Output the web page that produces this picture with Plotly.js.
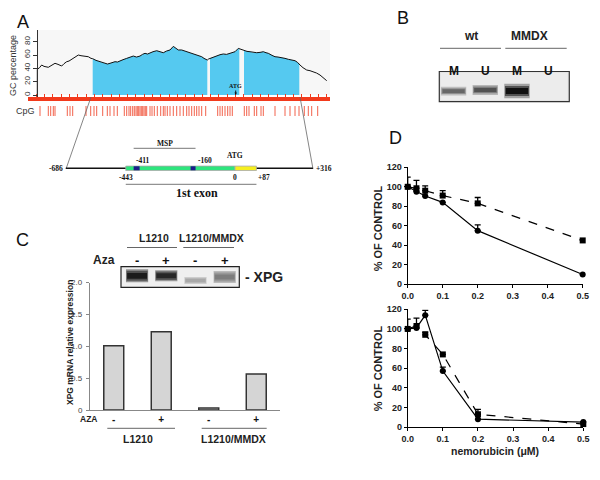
<!DOCTYPE html>
<html><head><meta charset="utf-8">
<script src="https://cdn.plot.ly/plotly-3.0.1.min.js"></script>
<style>html,body{margin:0;padding:0;background:#fff}#chart{width:600px;height:480px}</style>
</head><body><div id="chart"></div>
<script>
// ---------- DATA ----------
// Panel A: GC percentage along the sequence window
const gcPos = [37.3,37.3,39.5,41.7,44,46,48.3,51,55,58,61.7,64,66.7,69,71.7,75,78.3,81,83.3,86,88.3,91,92.7,96,100,102.5,105,107.5,110,112.5,115,117.5,120,123,126.7,130,133.3,136.5,140,142.5,145,147.5,150,153,156.7,160,163.3,166.5,170,173.3,175.5,178.3,181.7,185,188.3,191.5,195,198,201.7,204,206.7,207.3,208.5,210,213,216.7,220,223.3,226.5,230,232.5,235,238.3,239.3,241,243.3,244,247,250,253,256.7,260,263.3,266,268.3,272,275,278,281.7,285,288.3,292,295,297.5,299.3,300,303,306.7,310,313.3,316.5,320,323,326.7];
const gcVal = [0,38.6,41,45,43,42.5,41.6,44,47.6,46,43.5,47,50,51,53.6,56,60,59,58.5,59,57.5,55,54.5,52,50,48.5,47.6,46.5,47.6,48.5,50,49.5,51.5,53,55,56.5,58.5,57,58.5,61,62.6,61.5,63.5,65,66.5,64.5,63.5,66,67.6,73,70,67.6,67.6,66,65,63,61.6,59.5,57.5,55,52.5,52.5,54,55,57,58.5,60.5,61.6,61,62.6,64,65,70,69.5,68.5,66.5,66.5,65.5,65,64,63.5,64,65,63.5,62.6,59.5,57.5,57,56.5,55,53.6,52.5,51.5,49,47,45,41,37.5,36.5,35,33,30,26.5,21.5];
const cpgIslands = [[92.7,207.3],[210,239.3],[244,299.3]];
const cpgSites = [40,48.3,50.7,53.3,55,67.3,70,72.7,86,90.7,94,96.7,102.7,107.3,110,114,117.3,124.3,126.7,129,130.7,132.7,134.3,136,137.3,138.7,140,141.3,142.7,144,145.3,146.7,150,152,154.3,157.3,160.7,163.3,165,167.3,170,173.3,176.7,180,183.3,186.7,189,191.7,194.3,196.7,199,201.7,205.7,217.7,220,222.3,225,227.7,230,232.3,244.3,246.7,249,254.3,256.7,261,263.3,275,285,290,295,299,304.3,308.3,311.7,317.7];
const atgWindowPos = 235.7;
const gcTicks = [0,20,40,60,80];

// Gene diagram (bp relative to ATG)
const geneStart = -686, geneEnd = 316;
const exonStart = -443, exonEnd = 87, atgBp = 0;
const mspPrimers = [[-411,-387],[-180,-160]];
const mspLabels = [-411,-160];

// Panel B: MSP gel
const gelLanes = ['M','U','M','U'];
const gelGroups = ['wt','MMDX'];
const gelIntensity = [0.6,0.7,1.0,0];
const gelCenter = [0.35,0.39,0.355,0.36];
const gelThick = [0.13,0.15,0.22,0.1];

// Panel C: western blot + qPCR
const blotAza = ['-','+','-','+'];
const blotGroups = ['L1210','L1210/MMDX'];
const blotIntensity = [0.95,0.9,0.3,0.5];
const blotCenter = [0.56,0.56,0.33,0.5];
const blotThick = [0.40,0.34,0.21,0.36];
const xpgExpr = [1.01,1.23,0.03,0.565];
const exprTicks = [0,0.5,1,1.5,2];
const exprTickText = ['0','0.5','1.0','1.5','2.0'];

// Panel D: survival curves
const dose = [0,0.025,0.05,0.1,0.2,0.5];
const doseTicks = [0,0.1,0.2,0.3,0.4,0.5];
const topCircle = [100,95,90.5,84,55,10];
const topCircleErr = [0,0,0,0,6,0];
const topSquare = [100,98.5,96,91,83,45];
const topSquareErr = [10,8,5,5,6,0];
const botCircle = [100,101,114,57,8,5];
const botCircleErr = [0,0,5,4,0,0];
const botSquare = [100,103,94,74,13,3];
const botSquareErr = [10,8,3,0,5,0];
const pctTicks = [0,20,40,60,80,100,120];

// ---------- HELPERS ----------
const W=600,H=480;
const fx = p => p/W;
const fy = p => 1 - p/H;
const SANS = 'Liberation Sans, Arial, sans-serif';
const SERIF = 'Liberation Serif, Times New Roman, serif';
const annotations = [];
function ann(text,x,y,o){
  o = o||{};
  annotations.push(Object.assign({text:text,x:fx(x),y:fy(y),xref:'paper',yref:'paper',showarrow:false,
    xanchor:'center',yanchor:'middle',font:{family:SANS,size:o.size||10,color:o.color||'#222',weight:o.weight||'normal'}},o.extra||{}));
}
const shapes = [];
function pline(x0,y0,x1,y1,color,w){shapes.push({type:'line',xref:'paper',yref:'paper',x0:fx(x0),y0:fy(y0),x1:fx(x1),y1:fy(y1),line:{color:color||'#555',width:w||1}});}
function prect(x0,y0,x1,y1,fill,lc,lw,layer){shapes.push({type:'rect',xref:'paper',yref:'paper',x0:fx(x0),y0:fy(y0),x1:fx(x1),y1:fy(y1),fillcolor:fill,line:{color:lc||fill,width:lw===undefined?0:lw},layer:layer||'below'});}
const grayOf = (v,k) => { if(v<=0) return 'rgba(0,0,0,0)'; const g=Math.max(0,Math.min(255,Math.round(232-k*v))); return 'rgb('+g+','+g+','+g+')'; };

const traces = [];

// ---------- PANEL A ----------
prect(37,30,330,95,'#f7f7f7',null,0,'below');
cpgIslands.forEach(r=>{
  const xs=[],ys=[];
  gcPos.forEach((p,i)=>{ if(p>=r[0]&&p<=r[1]){xs.push(p);ys.push(gcVal[i]);} });
  traces.push({type:'scatter',mode:'lines',x:xs,y:ys,fill:'tozeroy',fillcolor:'#55c9f0',line:{width:0,color:'#55c9f0'},xaxis:'x',yaxis:'y',hoverinfo:'skip'});
});
traces.push({type:'scatter',mode:'lines',x:gcPos,y:gcVal,line:{color:'#111',width:1},xaxis:'x',yaxis:'y'});
traces.push({type:'scatter',mode:'markers',x:cpgSites,y:cpgSites.map(()=>0.5),xaxis:'x',yaxis:'y8',
  marker:{symbol:'line-ns',size:8,line:{color:'rgba(240,70,45,0.85)',width:1}}});
annotations.push({text:'<b>ATG</b>',x:atgWindowPos,y:0,xref:'x',yref:'y',showarrow:true,arrowhead:2,arrowsize:0.5,arrowwidth:1,arrowcolor:'#111',ax:0,ay:-9,
  font:{family:SERIF,size:6,color:'#111'}});
ann('A',23,22,{size:18,color:'#111'});
ann('GC percentage',13,66,{size:9,color:'#333',extra:{textangle:-90}});
ann('CpG',25,111,{size:9,color:'#333'});
pline(91,97,66,169,'#666',0.8);
pline(300,97,313,169,'#666',0.8);

// gene diagram on bp axis x2
traces.push({type:'scatter',x:[geneStart,geneEnd],y:[0,0],mode:'lines',line:{width:0},xaxis:'x2',yaxis:'y2',hoverinfo:'skip',opacity:0});
const gy = 168.3;
shapes.push({type:'line',xref:'x2',yref:'paper',x0:geneStart,x1:geneEnd,y0:fy(gy),y1:fy(gy),line:{color:'#111',width:1.6}});
shapes.push({type:'rect',xref:'x2',yref:'paper',x0:exonStart,x1:atgBp,y0:fy(gy+2.2),y1:fy(gy-2.2),fillcolor:'#2ee57d',line:{color:'#aaa',width:0.8}});
shapes.push({type:'rect',xref:'x2',yref:'paper',x0:atgBp,x1:exonEnd,y0:fy(gy+2.2),y1:fy(gy-2.2),fillcolor:'#f6ef1e',line:{color:'#aaa',width:0.8}});
mspPrimers.forEach(p=>shapes.push({type:'rect',xref:'x2',yref:'paper',x0:p[0],x1:p[1],y0:fy(gy+2),y1:fy(gy-2),fillcolor:'#1c1c8a',line:{width:0}}));
shapes.push({type:'line',xref:'x2',yref:'paper',x0:mspLabels[0],x1:mspLabels[1],y0:fy(148.3),y1:fy(148.3),line:{color:'#777',width:1}});
shapes.push({type:'line',xref:'x2',yref:'paper',x0:exonStart,x1:exonEnd,y0:fy(184.3),y1:fy(184.3),line:{color:'#777',width:1}});
function gann(text,x,y,xanchor,size){annotations.push({text:'<b>'+text+'</b>',x:x,y:fy(y),xref:'x2',yref:'paper',showarrow:false,xanchor:xanchor||'center',yanchor:'middle',font:{family:SERIF,size:size||7.5,color:'#111'}});}
gann(String(geneStart),geneStart-2,gy,'right');
gann('+'+geneEnd,geneEnd+4,gy,'left');
gann(String(mspLabels[0]),mspLabels[0],160.7,'left');
gann(String(mspLabels[1]),mspLabels[1],160.7,'left');
gann('ATG',atgBp,155.7,'center');
gann(String(exonStart),exonStart,177.5,'center');
gann(String(atgBp),atgBp,177.5,'center');
gann('+'+exonEnd,exonEnd,177.5,'left');
gann('MSP',(mspLabels[0]+mspLabels[1])/2,143.3,'center');
gann('1st exon',(exonStart+exonEnd)/2+22,193,'center',12);

// ---------- PANEL B ----------
ann('B',403,18,{size:18,color:'#111'});
ann(gelGroups[0],470.7,36,{size:12,weight:'bold'});
ann(gelGroups[1],529,36,{size:12,weight:'bold'});
pline(440,48.3,501,48.3,'#666',1);
pline(505.3,48.3,566.7,48.3,'#666',1);
prect(439.3,71.5,569.3,101.7,'#e4e4e4','#333',1.2,'below');
prect(441,73,567.6,100,'#ececec',null,0,'below');
const lanesIdx=[0,1,2,3];
[[2.2,0.80,70],[1.5,0.76,150],[0.9,0.70,215]].forEach(L=>{
  traces.push({type:'bar',x:lanesIdx,y:gelThick.map(t=>t*L[0]),base:gelCenter.map((c,i)=>c-gelThick[i]*L[0]/2),width:L[1],
    marker:{color:gelIntensity.map(v=>grayOf(v,L[2])),line:{width:0}},xaxis:'x3',yaxis:'y3'});
});
gelLanes.forEach((l,i)=>annotations.push({text:'<b>'+l+'</b>',x:i,y:fy(61.7),xref:'x3',yref:'paper',showarrow:false,font:{family:SANS,size:12,color:'#111'}}));

// ---------- PANEL C ----------
ann('C',22,240,{size:18,color:'#111'});
ann(blotGroups[0],154,238,{size:10.5,weight:'bold'});
ann(blotGroups[1],211,238,{size:10.5,weight:'bold'});
pline(127,247.5,177,247.5,'#666',1);
pline(183.3,247.5,234,247.5,'#666',1);
ann('Aza',104,260,{size:12,weight:'bold'});
prect(121,266.7,239.3,287.3,'#efefef','#222',1.2,'below');
[[1.6,0.76,90],[1.2,0.72,160],[0.7,0.68,215]].forEach(L=>{
  traces.push({type:'bar',x:lanesIdx,y:blotThick.map(t=>t*L[0]),base:blotCenter.map((c,i)=>c-blotThick[i]*L[0]/2),width:L[1],
    marker:{color:blotIntensity.map(v=>grayOf(v,L[2])),line:{width:0}},xaxis:'x4',yaxis:'y4'});
});
blotAza.forEach((l,i)=>annotations.push({text:'<b>'+l+'</b>',x:i,y:fy(260),xref:'x4',yref:'paper',showarrow:false,font:{family:SANS,size:13,color:'#111'}}));
ann('- XPG',243.3,276.7,{size:14,weight:'bold',extra:{xanchor:'left'}});

const exprBottom = 410, exprTop = 282.7, exprMax = 2;
traces.push({type:'bar',x:lanesIdx,y:xpgExpr,width:0.42,marker:{color:'#d5d5d5',line:{color:'#333',width:1.5}},xaxis:'x5',yaxis:'y5'});
exprTicks.forEach((v,i)=>ann(exprTickText[i],85.5,exprBottom-(v/exprMax)*(exprBottom-exprTop),{size:8,color:'#444',extra:{xanchor:'right'}}));
ann('XPG mRNA relative expression',70,343,{size:8.5,weight:'bold',extra:{textangle:-90}});
ann('AZA',88,419,{size:8.5,weight:'bold'});
pline(107.3,428.3,175,428.3,'#666',1);
pline(201.7,428.3,266.7,428.3,'#666',1);
ann(blotGroups[0],138.3,439,{size:10.5,weight:'bold'});
ann(blotGroups[1],233.3,439,{size:10.5,weight:'bold'});

// ---------- PANEL D ----------
ann('D',395,138,{size:18,color:'#111'});
function curve(y,err,sym,dash,xa,ya){
  return {type:'scatter',mode:'lines+markers',x:dose,y:y,xaxis:xa,yaxis:ya,cliponaxis:false,
    line:{color:'#000',width:1.2,dash:dash},marker:{symbol:sym,size:6,color:'#000'},
    error_y:{type:'data',symmetric:false,array:err,arrayminus:err.map(()=>0),color:'#000',thickness:1.3,width:3}};
}
traces.push(curve(topSquare,topSquareErr,'square','dash','x6','y6'));
traces.push(curve(topCircle,topCircleErr,'circle','solid','x6','y6'));
traces.push(curve(botSquare,botSquareErr,'square','dash','x7','y7'));
traces.push(curve(botCircle,botCircleErr,'circle','solid','x7','y7'));
ann('% OF CONTROL',378.3,228,{size:11,weight:'bold',extra:{textangle:-90}});
ann('% OF CONTROL',378.3,368,{size:11,weight:'bold',extra:{textangle:-90}});
ann('nemorubicin (\u03bcM)',495,450.7,{size:10.5,weight:'bold'});

// ---------- LAYOUT ----------
const hid = {visible:false,showgrid:false,zeroline:false,fixedrange:true};
const dAxisX = (d0,d1,anchor)=>({domain:[fx(d0),fx(d1)],range:[0,0.5],anchor:anchor,showgrid:false,zeroline:false,showline:true,linecolor:'#000',linewidth:1,
  ticks:'outside',ticklen:3,tickcolor:'#000',tickmode:'array',tickvals:doseTicks,tickformat:'.1f',
  tickfont:{family:SANS,size:9,color:'#222',weight:'bold'}});
const dAxisY = (b,t,anchor)=>({domain:[fy(b),fy(t)],range:[0,120],anchor:anchor,showgrid:false,zeroline:false,showline:true,linecolor:'#000',linewidth:1,
  ticks:'outside',ticklen:3,tickcolor:'#000',tickmode:'array',tickvals:pctTicks,tickfont:{family:SANS,size:9,color:'#222',weight:'bold'}});

const layout = {
  width:600,height:480,margin:{l:0,r:0,t:0,b:0},showlegend:false,
  paper_bgcolor:'#fff',plot_bgcolor:'rgba(0,0,0,0)',barmode:'overlay',
  font:{family:SANS,color:'#222'},
  xaxis:{domain:[fx(28),fx(330)],range:[28,330],anchor:'y',showgrid:false,zeroline:false,showline:true,linecolor:'#f23a1c',linewidth:4,
    ticks:'inside',ticklen:3,tickcolor:'#f23a1c',tickwidth:1,tick0:28,dtick:8.3,showticklabels:false,fixedrange:true},
  yaxis:{domain:[fy(97),fy(30)],range:[-3,97.6],anchor:'free',position:fx(36.7),showgrid:false,zeroline:false,showline:true,linecolor:'#333',linewidth:1,
    ticks:'outside',ticklen:4,tickcolor:'#333',tickmode:'array',tickvals:gcTicks,tickangle:-90,tickfont:{family:SANS,size:8,color:'#333'}},
  yaxis8:Object.assign({},hid,{domain:[fy(116),fy(106)],range:[0,1],anchor:'x'}),
  xaxis2:Object.assign({},hid,{domain:[0,1],range:[(0-235)/0.2466,(600-235)/0.2466],anchor:'y2'}),
  yaxis2:Object.assign({},hid,{domain:[0,1],range:[0,1],anchor:'x2'}),
  xaxis3:Object.assign({},hid,{domain:[fx(439.3),fx(569.3)],range:[-0.45,3.65],anchor:'y3'}),
  yaxis3:Object.assign({},hid,{domain:[fy(101.7),fy(71.5)],range:[0,1],anchor:'x3'}),
  xaxis4:Object.assign({},hid,{domain:[fx(121),fx(239.3)],range:[-0.55,3.5],anchor:'y4'}),
  yaxis4:Object.assign({},hid,{domain:[fy(287.3),fy(266.7)],range:[0,1],anchor:'x4'}),
  xaxis5:{domain:[fx(90),fx(280)],range:[-0.5,3.5],anchor:'y5',showgrid:false,zeroline:false,showline:true,linecolor:'#888',linewidth:1,
    ticks:'',tickmode:'array',tickvals:lanesIdx,ticktext:blotAza,tickfont:{family:SANS,size:10,color:'#111',weight:'bold'}},
  yaxis5:{domain:[fy(exprBottom),fy(exprTop)],range:[0,exprMax],anchor:'x5',showgrid:false,zeroline:false,showline:true,linecolor:'#888',linewidth:1,
    ticks:'outside',ticklen:3,tickcolor:'#888',tickmode:'array',tickvals:exprTicks,showticklabels:false},
  xaxis6:dAxisX(407.7,582.7,'y6'),
  yaxis6:dAxisY(284.3,167.3,'x6'),
  xaxis7:dAxisX(407.7,583.3,'y7'),
  yaxis7:dAxisY(427,309.3,'x7'),
  shapes:shapes,annotations:annotations
};
Plotly.newPlot('chart',traces,layout,{staticPlot:true,displayModeBar:false});
</script></body></html>
